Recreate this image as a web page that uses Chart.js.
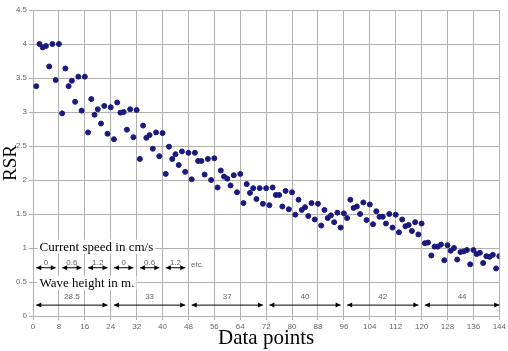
<!DOCTYPE html>
<html>
<head>
<meta charset="utf-8">
<script src="https://cdn.jsdelivr.net/npm/chart.js@4.4.1/dist/chart.umd.min.js"></script>
<style>
  html, body { margin: 0; padding: 0; background: #fff; }
  #wrap { width: 508px; height: 351px; }
</style>
</head>
<body>
<div id="wrap"><canvas id="rsr"></canvas></div>
<script>
// RSR, one value per data point 1..144
const rsr = [
  3.38, 4.00, 3.95, 3.97, 3.67, 4.00, 3.47, 4.00,
  2.98, 3.64, 3.38, 3.46, 3.15, 3.52, 3.02, 3.52,
  2.70, 3.19, 2.96, 3.04, 2.83, 3.09, 2.68, 3.07,
  2.60, 3.14, 2.99, 3.00, 2.74, 3.04, 2.63, 3.03,
  2.31, 2.80, 2.62, 2.66, 2.46, 2.70, 2.35, 2.69,
  2.09, 2.49, 2.31, 2.38, 2.22, 2.42, 2.12, 2.40,
  2.01, 2.40, 2.28, 2.28, 2.08, 2.31, 2.00, 2.32,
  1.89, 2.14, 2.05, 2.02, 1.92, 2.07, 1.82, 2.09,
  1.66, 1.94, 1.81, 1.88, 1.72, 1.88, 1.65, 1.88,
  1.63, 1.89, 1.78, 1.78, 1.61, 1.84, 1.57, 1.82,
  1.49, 1.71, 1.56, 1.60, 1.47, 1.66, 1.42, 1.65,
  1.33, 1.56, 1.44, 1.48, 1.38, 1.52, 1.30, 1.51,
  1.44, 1.71, 1.59, 1.61, 1.50, 1.67, 1.41, 1.64,
  1.35, 1.54, 1.46, 1.46, 1.36, 1.50, 1.30, 1.49,
  1.23, 1.42, 1.32, 1.34, 1.25, 1.38, 1.20, 1.36,
  1.07, 1.08, 0.89, 1.02, 1.02, 1.05, 0.82, 1.04,
  0.96, 1.00, 0.83, 0.94, 0.95, 0.97, 0.76, 0.97,
  0.91, 0.93, 0.78, 0.88, 0.87, 0.90, 0.70, 0.88
];

const xTicks = [0, 8, 16, 24, 32, 40, 48, 56, 64, 72, 80, 88, 96, 104, 112, 120, 128, 136, 144];
const yTicks = [0, 0.5, 1, 1.5, 2, 2.5, 3, 3.5, 4, 4.5];

// current speed groups (cm/s)
const speedStart = [1, 9, 17, 25, 33, 41];
const speedEnd = [7, 15, 23, 31, 39, 47];
const speedLabels = ['0', '0.6', '1.2', '0', '0.6', '1.2'];

// wave height groups (m)
const waveStart = [1, 25, 49, 73, 97, 121];
const waveEnd = [23, 47, 71, 95, 119, 144];
const waveLabels = ['28.5', '33', '37', '40', '42', '44'];

const points = rsr.map((v, i) => ({ x: i + 1, y: v }));

function arrowHead(ctx, x, y, dir) {
  ctx.beginPath();
  ctx.moveTo(x, y);
  ctx.lineTo(x - dir * 5, y - 2.5);
  ctx.lineTo(x - dir * 5, y + 2.5);
  ctx.closePath();
  ctx.fill();
}

function drawGroups(ctx, xs, y, starts, ends, labels, labelY, fontSize) {
  ctx.strokeStyle = '#000';
  ctx.fillStyle = '#000';
  ctx.lineWidth = 1;
  for (let i = 0; i < starts.length; i++) {
    const a = xs.getPixelForValue(starts[i]);
    const b = xs.getPixelForValue(ends[i]);
    ctx.beginPath();
    ctx.moveTo(a, y);
    ctx.lineTo(b, y);
    ctx.stroke();
    arrowHead(ctx, a, y, -1);
    arrowHead(ctx, b, y, 1);
    ctx.fillStyle = '#666';
    ctx.font = fontSize + 'px "Liberation Sans", Arial, sans-serif';
    ctx.textAlign = 'center';
    ctx.textBaseline = 'alphabetic';
    ctx.fillText(labels[i], (a + b) / 2, labelY);
    ctx.fillStyle = '#000';
  }
}

const groupsPlugin = {
  id: 'groups',
  afterDatasetsDraw(chart) {
    const ctx = chart.ctx;
    const xs = chart.scales.x;
    const ys = chart.scales.y;
    ctx.save();

    // headings with white boxes behind them
    ctx.font = '13px "Liberation Serif", "Times New Roman", serif';
    ctx.textBaseline = 'alphabetic';
    ctx.textAlign = 'left';
    const h1 = 'Current speed in cm/s';
    const h2 = 'Wave height in m.';
    const hx = xs.getPixelForValue(2);
    const h1y = ys.getPixelForValue(0.96);
    const h2y = ys.getPixelForValue(0.43);
    ctx.fillStyle = '#fff';
    ctx.fillRect(hx - 2, h1y - 11, ctx.measureText(h1).width + 4, 14);
    ctx.fillRect(hx - 2, h2y - 11, ctx.measureText(h2).width + 4, 14);
    ctx.fillStyle = '#000';
    ctx.fillText(h1, hx, h1y);
    ctx.fillText(h2, hx, h2y);

    const sy = ys.getPixelForValue(0.71);
    drawGroups(ctx, xs, sy, speedStart, speedEnd, speedLabels, sy - 3, 8);
    ctx.fillStyle = '#666';
    ctx.font = '8px "Liberation Sans", Arial, sans-serif';
    ctx.textAlign = 'left';
    ctx.fillText('etc.', xs.getPixelForValue(48.8), sy - 1);

    const wy = ys.getPixelForValue(0.16);
    drawGroups(ctx, xs, wy, waveStart, waveEnd, waveLabels, ys.getPixelForValue(0.25), 8);
    ctx.restore();
  }
};

new Chart(document.getElementById('rsr'), {
  type: 'scatter',
  data: {
    datasets: [{
      label: 'RSR',
      data: points,
      backgroundColor: '#1a1a7e',
      borderColor: '#1a1a7e',
      pointRadius: 2.5,
      pointHoverRadius: 2.5
    }]
  },
  options: {
    responsive: true,
    maintainAspectRatio: false,
    animation: false,
    layout: { padding: { top: 10, right: 5, left: 0, bottom: 0 } },
    plugins: {
      legend: { display: false },
      tooltip: { enabled: false }
    },
    scales: {
      x: {
        type: 'linear',
        min: 0,
        max: 144,
        afterBuildTicks: (s) => { s.ticks = xTicks.map(v => ({ value: v })); },
        afterFit: (s) => { s.height = 35; },
        grid: { color: '#b0b0b0', lineWidth: 1, tickLength: 4 },
        border: { color: '#b0b0b0' },
        ticks: {
          color: '#666',
          font: { size: 8, family: '"Liberation Sans", Arial, sans-serif' },
          padding: 2,
          maxRotation: 0,
          autoSkip: false,
          callback: (v) => String(v)
        },
        title: {
          display: true,
          text: 'Data points',
          color: '#000',
          font: { size: 21, family: '"Liberation Serif", "Times New Roman", serif' },
          padding: { top: 0, bottom: 0 }
        }
      },
      y: {
        min: 0,
        max: 4.5,
        afterBuildTicks: (s) => { s.ticks = yTicks.map(v => ({ value: v })); },
        afterFit: (s) => { s.width = 33; },
        grid: { color: '#b0b0b0', lineWidth: 1, tickLength: 4 },
        border: { color: '#b0b0b0' },
        ticks: {
          color: '#666',
          font: { size: 8, family: '"Liberation Sans", Arial, sans-serif' },
          padding: 2,
          callback: (v) => String(v)
        },
        title: {
          display: true,
          text: 'RSR',
          color: '#000',
          font: { size: 19, family: '"Liberation Serif", "Times New Roman", serif' },
          padding: { top: 0, bottom: 0 }
        }
      }
    }
  },
  plugins: [groupsPlugin]
});
</script>
</body>
</html>
